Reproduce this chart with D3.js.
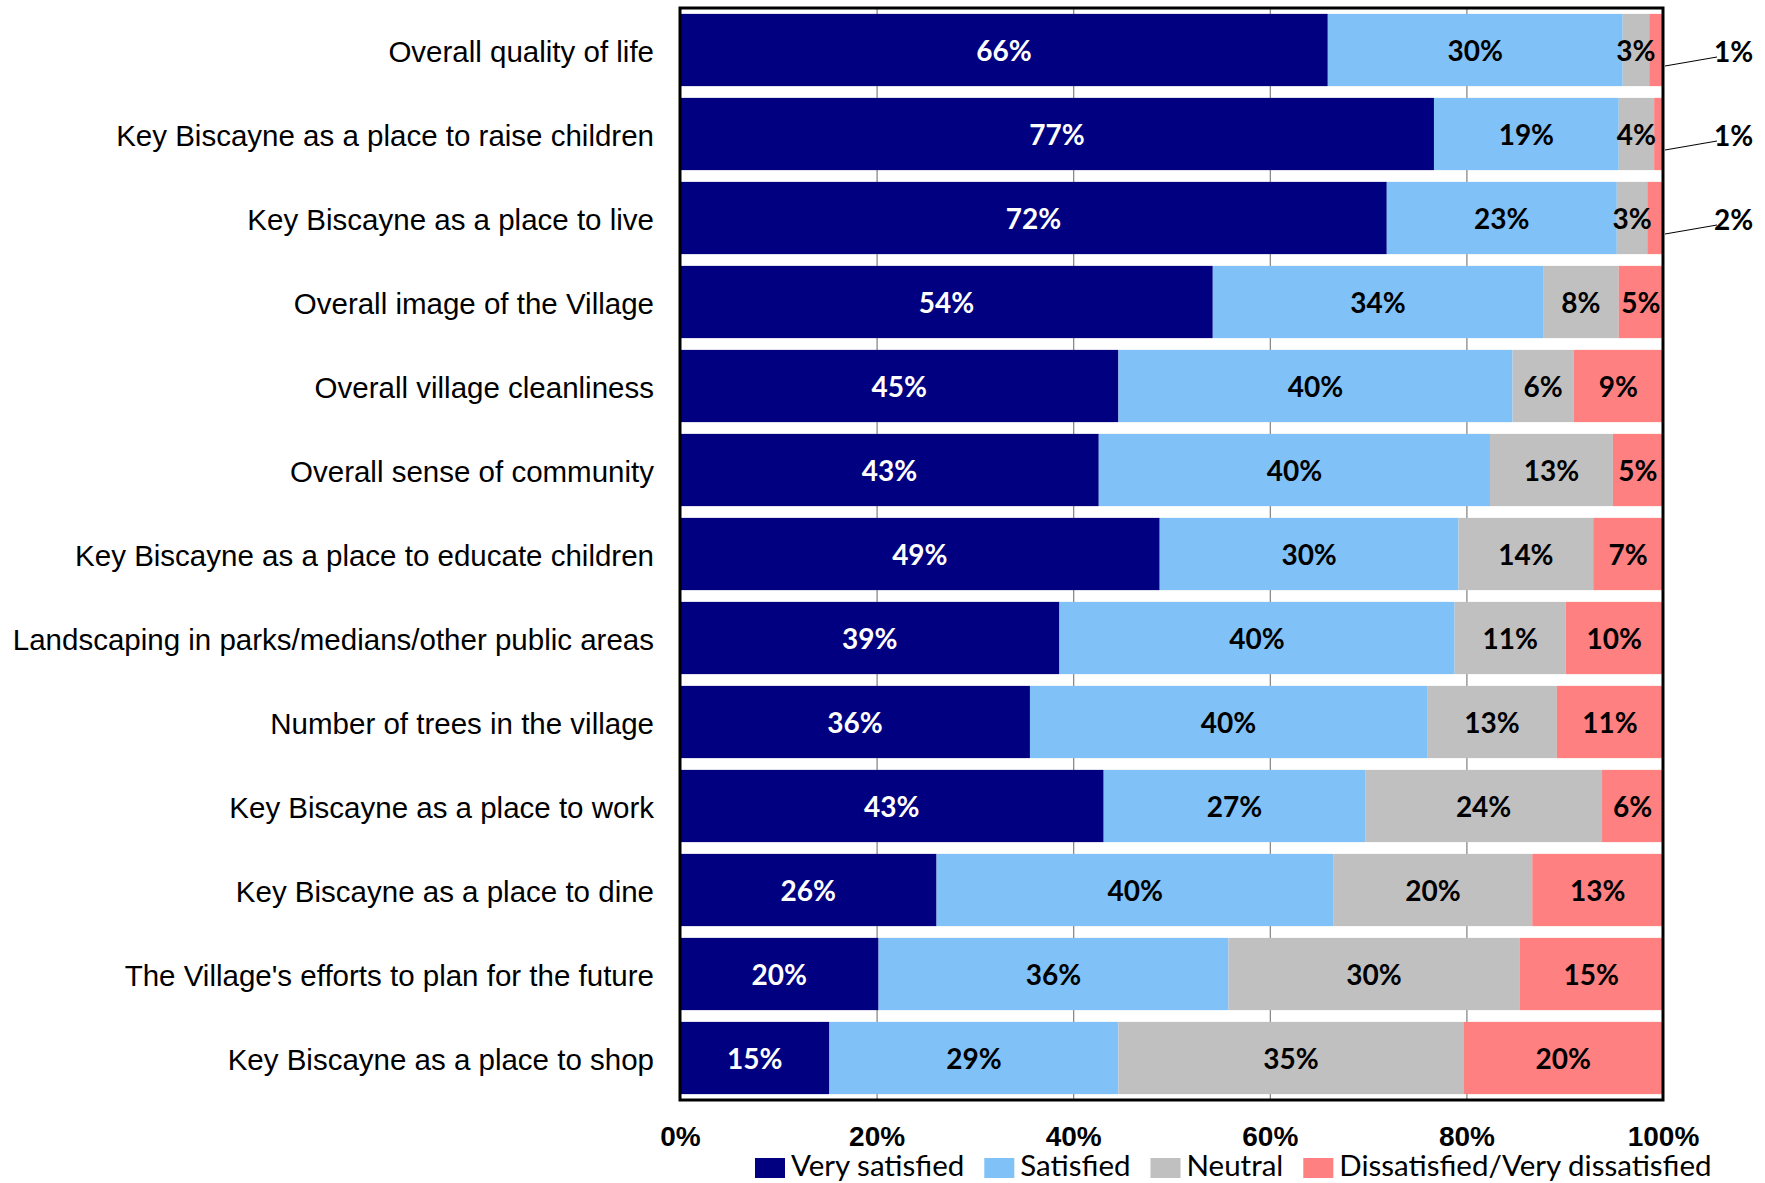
<!DOCTYPE html>
<html>
<head>
<meta charset="utf-8">
<script src="https://cdn.jsdelivr.net/npm/d3@7"></script>
<style>
  body { margin: 0; background: #fff; }
  svg { font-family: Lato, "Open Sans", sans-serif; }
  .cat text { font-size: 29.5px; fill: #000; }
  .xaxis text { font-size: 28px; font-weight: bold; fill: #000; }
  .val { font-size: 28px; font-weight: bold; }
  .legend text { font-size: 29.5px; fill: #000; }
</style>
</head>
<body>
<svg id="chart" width="1765" height="1183"></svg>
<script>
// Categories, top to bottom
var categories = [
  "Overall quality of life",
  "Key Biscayne as a place to raise children",
  "Key Biscayne as a place to live",
  "Overall image of the Village",
  "Overall village cleanliness",
  "Overall sense of community",
  "Key Biscayne as a place to educate children",
  "Landscaping in parks/medians/other public areas",
  "Number of trees in the village",
  "Key Biscayne as a place to work",
  "Key Biscayne as a place to dine",
  "The Village's efforts to plan for the future",
  "Key Biscayne as a place to shop"
];

// Percentages (labels are rounded)
var verySatisfied = [65.9, 76.7, 71.9, 54.2, 44.6, 42.6, 48.8, 38.6, 35.6, 43.1, 26.1, 20.2, 15.2];
var satisfied     = [30.0, 18.8, 23.4, 33.6, 40.1, 39.8, 30.4, 40.2, 40.4, 26.6, 40.4, 35.6, 29.4];
var neutral       = [2.7, 3.6, 3.1, 7.7, 6.2, 12.5, 13.7, 11.3, 13.2, 24.1, 20.2, 29.6, 35.1];
var dissatisfied  = [1.4, 0.9, 1.6, 4.5, 9.1, 5.1, 7.1, 9.9, 10.8, 6.2, 13.3, 14.6, 20.3];

var seriesNames = ["Very satisfied", "Satisfied", "Neutral", "Dissatisfied/Very dissatisfied"];
var seriesColors = ["#000080", "#80c2f7", "#c0c0c0", "#ff8080"];
var xTicks = [0, 20, 40, 60, 80, 100];

var rows = categories.map(function(c, i) {
  return {cat: c, vs: verySatisfied[i], s: satisfied[i], n: neutral[i], d: dissatisfied[i]};
});
var keys = ["vs", "s", "n", "d"];

var svg = d3.select("#chart");
var plotLeft = 680, plotRight = 1663, plotTop = 8, plotBottom = 1100;

var x = d3.scaleLinear().domain([0, 100]).range([plotLeft, plotRight]);
var y = d3.scaleBand().domain(categories).range([plotTop, plotBottom])
  .paddingInner(0.14).paddingOuter(0.07);

// vertical gridlines (behind bars)
svg.append("g")
  .attr("transform", "translate(0," + plotBottom + ")")
  .call(d3.axisBottom(x).tickValues(xTicks.slice(1, -1)).tickSize(-(plotBottom - plotTop)).tickFormat(""))
  .call(function(g) {
    g.select(".domain").remove();
    g.selectAll("line").attr("stroke", "#808080").attr("stroke-width", 1.2);
  });

var stack = d3.stack().keys(keys)(rows);

var layers = svg.append("g").selectAll("g")
  .data(stack)
  .enter().append("g")
  .attr("fill", function(d, i) { return seriesColors[i]; });

layers.selectAll("rect")
  .data(function(d) { return d; })
  .enter().append("rect")
  .attr("x", function(d) { return x(d[0]); })
  .attr("y", function(d) { return y(d.data.cat); })
  .attr("width", function(d) { return x(d[1]) - x(d[0]); })
  .attr("height", y.bandwidth());

// value labels
stack.forEach(function(layer, li) {
  layer.forEach(function(d) {
    var v = Math.round(d[1] - d[0]);
    var cy = y(d.data.cat) + y.bandwidth() / 2;
    var outside = li === 3 && (d[1] - d[0]) < 2;
    if (outside) {
      svg.append("line")
        .attr("x1", x(100) + 2).attr("y1", cy + 16)
        .attr("x2", x(100) + 54).attr("y2", cy + 7)
        .attr("stroke", "#000").attr("stroke-width", 1);
      svg.append("text").attr("class", "val")
        .attr("x", x(100) + 51).attr("y", cy + 5)
        .attr("dominant-baseline", "middle")
        .attr("fill", "#000")
        .text(v + "%");
    } else {
      svg.append("text").attr("class", "val")
        .attr("x", (x(d[0]) + x(d[1])) / 2).attr("y", cy + 4)
        .attr("text-anchor", "middle")
        .attr("dominant-baseline", "middle")
        .attr("fill", li === 0 ? "#fff" : "#000")
        .text(v + "%");
    }
  });
});

// frame
svg.append("rect")
  .attr("x", plotLeft).attr("y", plotTop)
  .attr("width", plotRight - plotLeft).attr("height", plotBottom - plotTop)
  .attr("fill", "none").attr("stroke", "#000").attr("stroke-width", 3);

// category labels
svg.append("g").attr("class", "cat")
  .attr("transform", "translate(" + plotLeft + ",0)")
  .call(d3.axisLeft(y).tickSize(0).tickPadding(26))
  .call(function(g) { g.select(".domain").remove(); })
  .selectAll("text").attr("dy", "0.42em");

// x axis labels
svg.append("g").attr("class", "xaxis")
  .attr("transform", "translate(0," + plotBottom + ")")
  .call(d3.axisBottom(x).tickValues(xTicks).tickSize(0).tickPadding(26)
    .tickFormat(function(d) { return d + "%"; }))
  .call(function(g) { g.select(".domain").remove(); });

// legend
var legend = svg.append("g").attr("class", "legend");
var lx = 755, ly = 1168;
seriesNames.forEach(function(name, i) {
  legend.append("rect")
    .attr("x", lx).attr("y", ly - 10)
    .attr("width", 30).attr("height", 20)
    .attr("fill", seriesColors[i]);
  var t = legend.append("text")
    .attr("x", lx + 36).attr("y", ly + 1)
    .attr("dominant-baseline", "middle")
    .text(name);
  lx += 36 + t.node().getComputedTextLength() + 20;
});
</script>
</body>
</html>
